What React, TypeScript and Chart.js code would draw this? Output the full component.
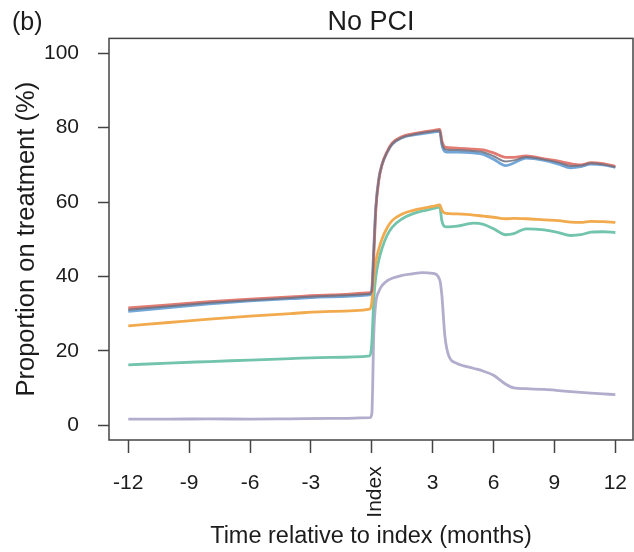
import React, { useEffect, useRef } from "react";
import { Chart, registerables } from "chart.js";

Chart.register(...registerables);

const months = [-12, -10, -8, -6, -4, -2, -0.1, 0, 0.1, 0.2, 0.35, 0.5, 0.75, 1, 1.5, 2, 2.5, 3, 3.35, 3.45, 3.6, 3.8, 4.2, 5, 5.5, 6, 6.6, 7, 7.6, 8.5, 9.2, 9.8, 10.3, 10.8, 11.4, 12];

const seriesRed = [31.5, 32.3, 33.2, 33.9, 34.5, 35, 35.6, 36, 46, 58, 66, 70, 73.5, 75.8, 77.6, 78.3, 78.8, 79.2, 79.5, 76.5, 74.8, 74.6, 74.5, 74.2, 74.0, 73.2, 72.0, 72.0, 72.4, 71.6, 71.0, 70.3, 70.0, 70.6, 70.3, 69.6];
const seriesBlue = [30.6, 31.6, 32.6, 33.4, 34.0, 34.5, 35.0, 36.5, 48, 59, 66.5, 70, 73.3, 75.5, 77.3, 78.0, 78.4, 78.8, 79.0, 75.5, 73.6, 73.4, 73.4, 73.2, 72.8, 71.5, 69.8, 70.5, 71.8, 71.2, 70.2, 69.2, 69.5, 70.2, 70.0, 69.3];
const seriesGrey = [31.0, 32.0, 32.9, 33.6, 34.2, 34.8, 35.3, 36.2, 47, 58.5, 66.2, 70, 73.4, 75.6, 77.4, 78.1, 78.6, 79.0, 79.2, 76, 74.2, 74.0, 74.0, 73.7, 73.4, 72.3, 70.9, 71.2, 72.1, 71.4, 70.6, 69.7, 69.8, 70.4, 70.1, 69.4];
const seriesOrange = [26.7, 27.6, 28.5, 29.3, 30.0, 30.6, 31.2, 33, 40, 44, 47.5, 50, 53, 55, 56.8, 57.7, 58.3, 58.8, 59.2, 57.8, 57.0, 56.9, 56.8, 56.5, 56.2, 55.9, 55.5, 55.6, 55.5, 55.2, 55.0, 54.6, 54.5, 54.8, 54.7, 54.5];
const seriesTeal = [16.2, 16.7, 17.1, 17.5, 17.9, 18.2, 18.6, 22, 34, 40, 44.5, 47.5, 51, 53.2, 55.5, 56.8, 57.6, 58.2, 58.6, 55, 53.4, 53.3, 53.5, 54.3, 54.0, 52.8, 51.2, 51.5, 52.8, 52.5, 51.8, 51.0, 51.2, 51.9, 52.0, 51.8];
const seriesLavender = [1.6, 1.6, 1.7, 1.6, 1.7, 1.8, 2.0, 3, 25, 33, 36, 37.5, 38.8, 39.5, 40.3, 40.7, 41.0, 40.8, 39.0, 35, 24, 18.5, 16.6, 15.3, 14.5, 13.4, 11.0, 10.0, 9.8, 9.6, 9.3, 9.0, 8.8, 8.6, 8.4, 8.2];

const xTicks = [-12, -9, -6, -3, 0, 3, 6, 9, 12];
const yTicks = [0, 20, 40, 60, 80, 100];
const indexLabel = "Index";
const panelLabel = "(b)";
const titleText = "No PCI";
const xTitle = "Time relative to index (months)";
const yTitle = "Proportion on treatment (%)";

const FONT = "'Liberation Sans', Arial, Helvetica, sans-serif";
const INK = "#1c1c1c";

function pts(vals: number[]) {
  return months.map((m, i) => ({ x: m, y: vals[i] }));
}

export default function App() {
  const ref = useRef<HTMLCanvasElement | null>(null);

  useEffect(() => {
    if (!ref.current) return;
    const framePlugin = {
      id: "frameAndExtras",
      afterDraw(chart: any) {
        const { ctx, chartArea } = chart;
        const xs = chart.scales.x;
        ctx.save();
        ctx.strokeStyle = "#444";
        ctx.lineWidth = 1.5;
        ctx.strokeRect(chartArea.left, chartArea.top, chartArea.right - chartArea.left, chartArea.bottom - chartArea.top);
        const px = xs.getPixelForValue(0);
        ctx.translate(px + 3.5, 492);
        ctx.rotate(-Math.PI / 2);
        ctx.fillStyle = INK;
        ctx.font = `21px ${FONT}`;
        ctx.textAlign = "center";
        ctx.textBaseline = "middle";
        ctx.fillText(indexLabel, 0, 0);
        ctx.restore();
        ctx.save();
        ctx.fillStyle = INK;
        ctx.font = `25px ${FONT}`;
        ctx.textAlign = "left";
        ctx.textBaseline = "middle";
        ctx.fillText(panelLabel, 12, 23);
        ctx.restore();
      },
    };

    const mk = (label: string, vals: number[], color: string, width: number) => ({
      label,
      data: pts(vals),
      borderColor: color,
      backgroundColor: color,
      borderWidth: width,
      pointRadius: 0,
      cubicInterpolationMode: "monotone" as const,
      fill: false,
    });

    const chart = new Chart(ref.current, {
      type: "line",
      data: {
        datasets: [
          mk("grey", seriesGrey, "rgba(110,112,128,0.85)", 2),
          mk("red", seriesRed, "#e27b72", 2.8),
          mk("blue", seriesBlue, "#72a6d6", 2.8),
          mk("orange", seriesOrange, "#f1ab4e", 2.8),
          mk("teal", seriesTeal, "#72c4ac", 2.8),
          mk("lavender", seriesLavender, "#b2adcc", 2.8),
        ],
      },
      options: {
        animation: false,
        responsive: false,
        layout: { padding: { left: 0, right: 1, top: 0, bottom: 0 } },
        plugins: {
          legend: { display: false },
          tooltip: { enabled: false },
          title: {
            display: true,
            text: titleText,
            fullSize: false,
            color: INK,
            font: { family: FONT, size: 27, weight: "normal" },
            padding: { top: 6, bottom: 0 },
          },
        },
        scales: {
          x: {
            type: "linear",
            min: -12.95,
            max: 12.87,
            afterBuildTicks: (s: any) => {
              s.ticks = xTicks.map((v) => ({ value: v }));
            },
            afterFit: (s: any) => {
              s.height = 112;
              s.paddingLeft = 0;
              s.paddingRight = 0;
            },
            ticks: {
              autoSkip: false,
              maxRotation: 0,
              minRotation: 0,
              padding: 18,
              color: INK,
              font: { family: FONT, size: 21 },
              callback: (v: any) => (Number(v) === 0 ? "" : String(v)),
            },
            grid: {
              display: true,
              drawOnChartArea: false,
              drawTicks: true,
              tickLength: 13,
              tickColor: "#444",
              tickWidth: 1.5,
            },
            border: { display: false },
            title: {
              display: true,
              text: xTitle,
              color: INK,
              font: { family: FONT, size: 23.5 },
              padding: { top: 0, bottom: 1 },
            },
          },
          y: {
            type: "linear",
            min: -4,
            max: 104,
            afterBuildTicks: (s: any) => {
              s.ticks = yTicks.map((v) => ({ value: v }));
            },
            afterFit: (s: any) => {
              s.width = 109;
              s.paddingTop = 0;
              s.paddingBottom = 0;
            },
            ticks: {
              padding: 19,
              color: INK,
              font: { family: FONT, size: 21 },
            },
            grid: {
              display: true,
              drawOnChartArea: false,
              drawTicks: true,
              tickLength: 11,
              tickColor: "#444",
              tickWidth: 1.5,
            },
            border: { display: false },
            title: {
              display: true,
              text: yTitle,
              color: INK,
              font: { family: FONT, size: 25.5 },
              padding: { top: 12, bottom: 0 },
            },
          },
        },
      },
      plugins: [framePlugin],
    });
    return () => chart.destroy();
  }, []);

  return (
    <div style={{ position: "absolute", left: 0, top: 0, width: 634, height: 552, background: "#fff" }}>
      <canvas ref={ref} width={634} height={552} style={{ width: 634, height: 552, display: "block" }} />
    </div>
  );
}
